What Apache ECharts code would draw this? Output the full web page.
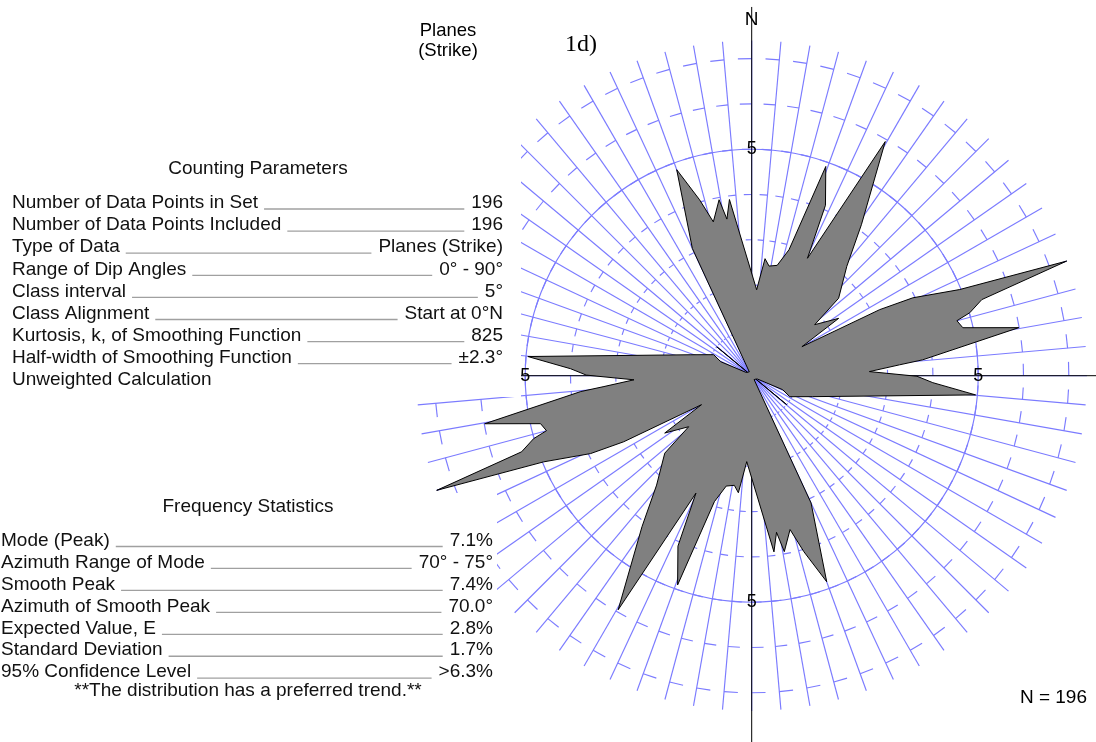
<!DOCTYPE html>
<html>
<head>
<meta charset="utf-8">
<script src="https://cdn.jsdelivr.net/npm/echarts@6/dist/echarts.min.js"></script>
<style>
  html, body { margin: 0; padding: 0; background: #fff; }
  #chart { width: 1096px; height: 742px; }
</style>
</head>
<body>
<div id="chart"></div>
<script>
// Smoothed strike frequency (% of planes) at the outline vertices, azimuth 0–180°.
// Strikes are bidirectional, so every vertex is also drawn at azimuth + 180°.
const strikeAzimuth = [3.3, 6.5, 9, 13, 16.5, 19.5, 23.4, 25.4, 29.7, 36, 41, 48.3, 51, 56.6, 60,
  62.7, 64.2, 67.5, 70, 71.7, 73.9, 75, 77.2, 79.8, 84.7, 85.8, 88, 90.2, 92.2, 94.9, 109, 118.9, 114.3,
  120, 128.5, 129.6, 130.5, 148, 155, 160, 163.5, 166, 169.5, 171, 172.8];
const strikeValue = [1.9, 2.6, 2.45, 2.5, 2.9, 4.9, 4.1, 2.87, 5.95, 4.12, 3.2, 2.57, 1.79, 2.3, 1.28,
  3.18, 3.95, 4.97, 7.4, 5.35, 5.01, 4.69, 4.78, 5.99, 3.79, 3.27, 2.6, 3.65, 4.0, 4.96, 1.42, 0.96, 0.75,
  0.15, 0.12, 1.0, 0.12, 0.1, 3.1, 4.84, 4.05, 3.5, 3.95, 3.5, 3.92];

// Net layout: spokes every class interval, tick marks at each percent, one ring.
const spokeStep = 5;          // degrees
const spokeLength = 7.4;      // percent (smooth peak)
const tickLevels = [1, 2, 3, 4, 5, 6, 7];
const ringLevels = [5];
const ringLabel = '5';
const axisReach = 8.14;       // percent
const axisDirections = [0, 90, 180, 270];
const northLabel = 'N';

const countingTitle = 'Counting Parameters';
const countingLabels = ['Number of Data Points in Set', 'Number of Data Points Included', 'Type of Data',
  'Range of Dip Angles', 'Class interval', 'Class Alignment', 'Kurtosis, k, of Smoothing Function',
  'Half-width of Smoothing Function', 'Unweighted Calculation'];
const countingValues = ['196', '196', 'Planes (Strike)', '0° - 90°', '5°', 'Start at 0°N', '825', '±2.3°', ''];

const frequencyTitle = 'Frequency Statistics';
const frequencyLabels = ['Mode (Peak)', 'Azimuth Range of Mode', 'Smooth Peak', 'Azimuth of Smooth Peak',
  'Expected Value, E', 'Standard Deviation', '95% Confidence Level'];
const frequencyValues = ['7.1%', '70° - 75°', '7.4%', '70.0°', '2.8%', '1.7%', '>6.3%'];
const frequencyNote = '**The distribution has a preferred trend.**';

const FONT = '"Liberation Sans", Arial, Helvetica, sans-serif';
const BLUE = '#7b7bff';
const TEXT_SIZE = 19;

const chart = echarts.init(document.getElementById('chart'), null, { renderer: 'canvas' });

// Full outline: each strike vertex plus its opposite direction.
const roseRadius = strikeValue.concat(strikeValue);
const roseAzimuth = strikeAzimuth.concat(strikeAzimuth.map(a => a + 180));

function gridItem(params, api) {
  if (params.dataIndex !== 0) return null;
  const c = api.coord([0, 0]);
  const children = [];
  const tickSpan = spokeStep / 2;
  const lineStyle = { stroke: BLUE, lineWidth: 1.15 };
  for (let a = 0; a < 360; a += spokeStep) {
    const end = api.coord([spokeLength, a]);
    children.push({ type: 'line', shape: { x1: c[0], y1: c[1], x2: end[0], y2: end[1] }, style: lineStyle });
    tickLevels.forEach(r => {
      const p1 = api.coord([r, a]);
      const p2 = api.coord([r, a - tickSpan]);
      children.push({ type: 'line', shape: { x1: p1[0], y1: p1[1], x2: p2[0], y2: p2[1] }, style: lineStyle });
    });
  }
  ringLevels.forEach(r => {
    const p = api.coord([r, 0]);
    children.push({ type: 'circle', shape: { cx: c[0], cy: c[1], r: Math.hypot(p[0] - c[0], p[1] - c[1]) },
      style: { fill: 'none', stroke: BLUE, lineWidth: 1.15 } });
  });
  axisDirections.forEach(a => {
    const end = api.coord([axisReach, a]);
    children.push({ type: 'line', shape: { x1: c[0], y1: c[1], x2: end[0], y2: end[1] },
      style: { stroke: '#000', lineWidth: 1 } });
  });
  return { type: 'group', children };
}

function roseItem(params, api) {
  if (params.dataIndex !== 0) return null;
  const points = roseRadius.map((r, i) => api.coord([r, roseAzimuth[i]]));
  return { type: 'polygon', shape: { points },
    style: { fill: '#808080', stroke: '#000', lineWidth: 1, lineJoin: 'miter' } };
}

function labelItem(params, api) {
  if (params.dataIndex !== 0) return null;
  const children = axisDirections.map(a => {
    const p = api.coord([ringLevels[0], a]);
    return { type: 'text', style: { text: ringLabel, x: p[0], y: p[1], align: 'center', verticalAlign: 'middle',
      fontSize: 18, fontFamily: FONT, fill: '#000' } };
  });
  const n = api.coord([7.85, 0]);
  children.push({ type: 'text', style: { text: northLabel, x: n[0], y: n[1], align: 'center', verticalAlign: 'middle',
    fontSize: 19, fontFamily: FONT, fill: '#000' } });
  return { type: 'group', children };
}

// Text panels measured with canvas so leader lines sit between label and value.
const measureCtx = document.createElement('canvas').getContext('2d');
function textWidth(s, size) {
  measureCtx.font = size + 'px ' + FONT;
  return measureCtx.measureText(s).width;
}

function panel(opts) {
  const els = [];
  els.push({ type: 'rect', shape: { x: 0, y: opts.top, width: opts.boxRight, height: opts.bottom - opts.top },
    style: { fill: '#fff' }, z: 50 });
  els.push({ type: 'text', x: opts.titleX, y: opts.titleY, style: { text: opts.title, align: 'center',
    verticalAlign: 'middle', fontSize: TEXT_SIZE, fontFamily: FONT, fill: '#111' }, z: 51 });
  opts.labels.forEach((lab, i) => {
    const y = opts.firstRow + i * opts.rowStep;
    els.push({ type: 'text', x: opts.left, y, style: { text: lab, align: 'left', verticalAlign: 'middle',
      fontSize: TEXT_SIZE, fontFamily: FONT, fill: '#111' }, z: 51 });
    const val = opts.values[i];
    if (val) {
      els.push({ type: 'text', x: opts.right, y, style: { text: val, align: 'right', verticalAlign: 'middle',
        fontSize: TEXT_SIZE, fontFamily: FONT, fill: '#111' }, z: 51 });
      const x1 = opts.left + textWidth(lab, TEXT_SIZE) + 6;
      const x2 = opts.right - textWidth(val, TEXT_SIZE) - 7;
      els.push({ type: 'line', shape: { x1, y1: y + 6, x2, y2: y + 6 },
        style: { stroke: '#a0a0a0', lineWidth: 1.3 }, z: 51 });
    }
  });
  if (opts.note) {
    els.push({ type: 'text', x: opts.titleX, y: opts.noteY, style: { text: opts.note, align: 'center',
      verticalAlign: 'middle', fontSize: TEXT_SIZE, fontFamily: FONT, fill: '#111' }, z: 51 });
  }
  return els;
}

const graphics = []
  .concat(panel({ top: 100, bottom: 397, boxRight: 521, title: countingTitle, titleX: 258, titleY: 169,
    labels: countingLabels, values: countingValues, left: 12, right: 503, firstRow: 203, rowStep: 22.1 }))
  .concat(panel({ top: 493, bottom: 715, boxRight: 497, title: frequencyTitle, titleX: 248, titleY: 507,
    labels: frequencyLabels, values: frequencyValues, left: 1, right: 493, firstRow: 540.5, rowStep: 21.95,
    note: frequencyNote, noteY: 691 }))
  .concat([
    { type: 'text', x: 448, y: 31, style: { text: 'Planes', align: 'center', verticalAlign: 'middle',
      fontSize: 18.5, fontFamily: FONT, fill: '#000' }, z: 51 },
    { type: 'text', x: 448, y: 51, style: { text: '(Strike)', align: 'center', verticalAlign: 'middle',
      fontSize: 18.5, fontFamily: FONT, fill: '#000' }, z: 51 },
    { type: 'text', x: 581, y: 45, style: { text: '1d)', align: 'center', verticalAlign: 'middle',
      fontSize: 24, fontFamily: '"Liberation Serif", "Times New Roman", serif', fill: '#000' }, z: 51 },
    { type: 'text', x: 1087, y: 698, style: { text: 'N = 196', align: 'right', verticalAlign: 'middle',
      fontSize: 19, fontFamily: FONT, fill: '#000' }, z: 51 }
  ]);

chart.setOption({
  animation: false,
  backgroundColor: '#fff',
  polar: { center: [751.7, 375.7], radius: 8.2 * 45.3 },
  angleAxis: { type: 'value', min: 0, max: 360, startAngle: 90, clockwise: true, show: false,
    axisLine: { show: false }, axisTick: { show: false }, axisLabel: { show: false }, splitLine: { show: false } },
  radiusAxis: { type: 'value', min: 0, max: 8.2, show: false,
    axisLine: { show: false }, axisTick: { show: false }, axisLabel: { show: false }, splitLine: { show: false } },
  series: [
    { type: 'custom', coordinateSystem: 'polar', renderItem: gridItem, data: [[0, 0]], z: 1, silent: true },
    { type: 'custom', coordinateSystem: 'polar', renderItem: roseItem,
      data: roseRadius.map((r, i) => [r, roseAzimuth[i]]), z: 2, silent: true },
    { type: 'custom', coordinateSystem: 'polar', renderItem: labelItem, data: [[0, 0]], z: 3, silent: true }
  ],
  graphic: { elements: graphics }
});
</script>
</body>
</html>
